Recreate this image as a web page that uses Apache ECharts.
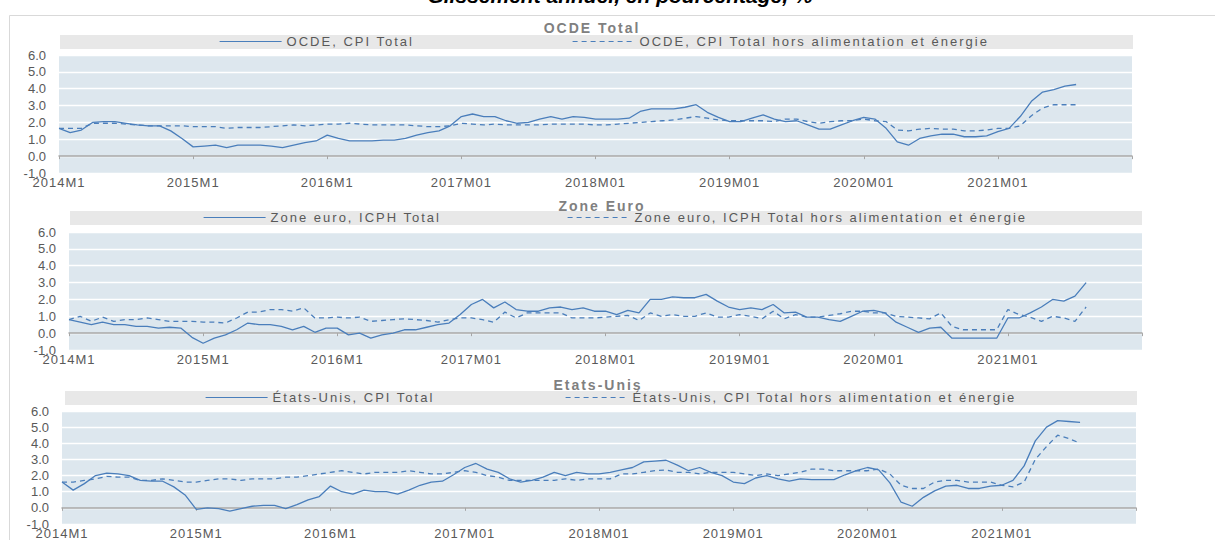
<!DOCTYPE html>
<html><head><meta charset="utf-8">
<script src="https://cdn.jsdelivr.net/npm/echarts@6/dist/echarts.min.js"></script>
<style>
html,body{margin:0;padding:0;background:#fff}
#c{width:1215px;height:540px}
#c text[style*="Helvetica"], #c text[font-family*="Helvetica"]{letter-spacing:1px}
#c text[style*="Tahoma"], #c text[font-family*="Tahoma"]{letter-spacing:2px}
</style>
</head><body><div id="c"></div>
<script>
// ---- data (monthly, 2014M1 .. 2021M8) ----
const yearLabels = ['2014M1','2015M1','2016M1','2017M01','2018M01','2019M01','2020M01','2021M01',''];
const mainTitle = 'Glissement annuel, en pourcentage, %';
const panelTitles = ['OCDE Total', 'Zone Euro', 'Etats-Unis'];
const seriesNames = [
  ['OCDE, CPI Total', 'OCDE, CPI Total hors alimentation et énergie'],
  ['Zone euro, ICPH Total', 'Zone euro, ICPH Total hors alimentation et énergie'],
  ['États-Unis, CPI Total', 'États-Unis, CPI Total hors alimentation et énergie']
];
const ocdeTotal = [1.65,1.4,1.55,2.0,2.05,2.05,1.95,1.85,1.8,1.8,1.5,1.05,
  0.55,0.6,0.65,0.5,0.65,0.65,0.65,0.6,0.5,0.65,0.8,0.9,
  1.25,1.05,0.9,0.9,0.9,0.95,0.95,1.05,1.25,1.4,1.5,1.8,
  2.35,2.5,2.35,2.35,2.1,1.95,2.0,2.2,2.35,2.2,2.35,2.3,
  2.2,2.2,2.2,2.25,2.65,2.8,2.8,2.8,2.9,3.05,2.6,2.3,
  2.05,2.05,2.25,2.45,2.2,2.05,2.1,1.85,1.6,1.6,1.85,2.1,
  2.3,2.2,1.65,0.85,0.65,1.05,1.2,1.3,1.3,1.15,1.15,1.2,
  1.45,1.65,2.35,3.25,3.8,3.95,4.15,4.25];
const ocdeCore = [1.65,1.65,1.65,1.95,1.95,1.95,1.9,1.85,1.8,1.8,1.8,1.8,
  1.75,1.75,1.75,1.65,1.7,1.7,1.7,1.75,1.8,1.85,1.8,1.85,
  1.9,1.9,1.95,1.9,1.85,1.85,1.85,1.85,1.8,1.75,1.75,1.8,
  1.95,1.9,1.85,1.9,1.85,1.85,1.85,1.85,1.9,1.9,1.9,1.9,
  1.85,1.85,1.9,1.95,2.0,2.05,2.1,2.15,2.25,2.35,2.25,2.15,
  2.1,2.1,2.1,2.1,2.05,2.2,2.2,2.05,1.95,2.05,2.1,2.1,
  2.2,2.1,2.05,1.55,1.5,1.6,1.65,1.6,1.6,1.5,1.5,1.55,
  1.65,1.65,1.8,2.4,2.85,3.05,3.05,3.05];
const euroTotal = [0.8,0.65,0.5,0.65,0.5,0.5,0.4,0.4,0.3,0.35,0.3,-0.25,
  -0.6,-0.3,-0.1,0.2,0.6,0.5,0.5,0.4,0.2,0.4,0.05,0.3,
  0.3,-0.1,0.0,-0.3,-0.1,0.0,0.2,0.2,0.35,0.5,0.6,1.1,
  1.7,2.0,1.5,1.85,1.4,1.3,1.3,1.5,1.55,1.4,1.5,1.3,
  1.3,1.1,1.35,1.2,2.0,2.0,2.15,2.1,2.1,2.3,1.9,1.55,
  1.4,1.5,1.4,1.7,1.2,1.25,0.95,0.95,0.8,0.7,1.0,1.3,
  1.35,1.2,0.65,0.35,0.05,0.3,0.35,-0.3,-0.3,-0.3,-0.3,-0.3,
  0.9,0.9,1.2,1.55,2.0,1.9,2.2,3.0];
const euroCore = [0.8,1.0,0.7,0.95,0.7,0.8,0.8,0.9,0.8,0.7,0.7,0.7,
  0.65,0.65,0.6,0.9,1.25,1.25,1.4,1.4,1.3,1.5,0.9,0.9,
  0.95,0.9,0.95,0.7,0.75,0.8,0.85,0.8,0.75,0.65,0.8,0.9,
  0.9,0.8,0.65,1.25,0.9,1.2,1.2,1.2,1.2,0.9,0.9,0.9,
  0.95,1.0,1.05,0.75,1.2,1.0,1.1,1.0,1.0,1.2,0.95,0.95,
  1.1,1.0,0.85,1.3,0.85,1.1,0.95,0.95,1.05,1.15,1.3,1.3,
  1.2,1.2,1.0,0.95,0.9,0.85,1.2,0.4,0.2,0.2,0.2,0.2,
  1.4,1.1,0.95,0.7,1.0,0.9,0.7,1.55];
const usTotal = [1.6,1.1,1.5,2.0,2.15,2.1,2.0,1.7,1.65,1.65,1.3,0.8,
  -0.1,0.0,-0.05,-0.2,-0.05,0.1,0.15,0.15,-0.05,0.2,0.5,0.7,
  1.35,1.0,0.85,1.1,1.0,1.0,0.85,1.1,1.4,1.6,1.65,2.05,
  2.5,2.75,2.4,2.2,1.8,1.6,1.7,1.9,2.2,2.0,2.2,2.1,
  2.1,2.2,2.35,2.5,2.85,2.9,2.95,2.65,2.3,2.5,2.2,2.0,
  1.6,1.5,1.85,2.0,1.8,1.65,1.8,1.75,1.75,1.75,2.05,2.3,
  2.5,2.35,1.55,0.35,0.1,0.65,1.05,1.35,1.4,1.2,1.2,1.35,
  1.4,1.7,2.6,4.15,5.0,5.4,5.35,5.3];
const usCore = [1.6,1.6,1.7,1.8,1.95,1.9,1.9,1.7,1.7,1.8,1.7,1.6,
  1.6,1.7,1.8,1.8,1.7,1.8,1.8,1.8,1.9,1.9,2.0,2.1,
  2.2,2.3,2.2,2.1,2.2,2.2,2.2,2.3,2.2,2.1,2.1,2.2,
  2.3,2.2,2.0,1.9,1.7,1.7,1.7,1.7,1.7,1.8,1.7,1.8,
  1.8,1.8,2.1,2.1,2.2,2.3,2.35,2.2,2.2,2.1,2.2,2.2,
  2.2,2.1,2.0,2.1,2.0,2.1,2.2,2.4,2.4,2.3,2.3,2.3,
  2.3,2.4,2.1,1.4,1.2,1.2,1.6,1.7,1.7,1.6,1.6,1.6,
  1.4,1.3,1.6,3.0,3.8,4.5,4.3,4.0];

const panelData = [[ocdeTotal, ocdeCore],[euroTotal, euroCore],[usTotal, usCore]];

// categories 2014M1 .. 2022M1 (axis runs one month past the data)
const categories = [];
for (let y = 2014; y <= 2022; y++) for (let m = 1; m <= 12; m++) { if (y === 2022 && m > 1) break; categories.push(y + 'M' + m); }

// ---- layout / style ----
const FONT = '"Liberation Sans", Arial, sans-serif';
const FONT_X = '"Liberation Sans", Helvetica, sans-serif';   // x labels (letter-spaced 1px)
const FONT_W = '"Liberation Sans", Tahoma, sans-serif';      // legend & panel titles (letter-spaced 2px)
const LINE = '#4a7ebb';
const grids = [
  {left: 59, width: 1073, top: 55, height: 118},
  {left: 69, width: 1073, top: 232, height: 118},
  {left: 62, width: 1074, top: 411, height: 117}
];
const legendBars = [
  {x: 60, y: 35, w: 1073, h: 14},
  {x: 70, y: 211, w: 1072, h: 14},
  {x: 65, y: 391, w: 1072, h: 14}
];
const titlePos = [{x: 592, y: 28}, {x: 602, y: 206}, {x: 598, y: 385}];
const legendPos = [[219, 572], [203, 567], [205, 565]];

const xAxis = [], yAxis = [], series = [], legend = [], graphic = [];
graphic.push({type: 'rect', shape: {x: 9.5, y: 15.5, width: 1230, height: 560}, style: {fill: 'none', stroke: '#d9d9d9', lineWidth: 1}, silent: true});
graphic.push({type: 'text', x: 620, y: -5, style: {text: mainTitle, font: 'italic bold 21px ' + FONT, fill: '#000', align: 'center', verticalAlign: 'middle'}});

grids.forEach((g, k) => {
  xAxis.push({
    gridIndex: k, type: 'category', data: categories, boundaryGap: false, position: 'bottom',
    axisLine: {show: false, onZero: false}, axisTick: {show: false},
    axisLabel: {interval: 11, color: '#595959', fontSize: 13, fontFamily: FONT_X, margin: 3,
      formatter: (v, i) => (i % 12 === 0 ? yearLabels[i / 12] : '')}
  });
  xAxis.push({
    gridIndex: k, type: 'category', data: categories, boundaryGap: false, position: 'bottom',
    axisLine: {show: true, onZero: true, lineStyle: {color: '#a6a6a6', width: 1.5}},
    axisTick: {show: true, interval: 11, length: 3, lineStyle: {color: '#a6a6a6', width: 1}},
    axisLabel: {show: false}, splitLine: {show: false}
  });
  yAxis.push({
    gridIndex: k, type: 'value', min: -1, max: 6, interval: 1,
    axisLine: {show: false}, axisTick: {show: false},
    axisLabel: {color: '#595959', fontSize: 13, fontFamily: FONT, margin: 13, formatter: v => v.toFixed(1)},
    splitLine: {show: true, lineStyle: {color: '#ffffff', width: 1.3}}
  });
  const [tot, core] = panelData[k];
  series.push({type: 'line', name: seriesNames[k][0], xAxisIndex: 2 * k, yAxisIndex: k, data: tot,
    symbol: 'none', lineStyle: {color: LINE, width: 1.3}, itemStyle: {color: LINE}, z: 3});
  series.push({type: 'line', name: seriesNames[k][1], xAxisIndex: 2 * k, yAxisIndex: k, data: core,
    symbol: 'none', lineStyle: {color: LINE, width: 1.3, type: [5, 4]}, itemStyle: {color: LINE}, z: 2});
  const b = legendBars[k];
  graphic.push({type: 'rect', shape: {x: b.x, y: b.y, width: b.w, height: b.h}, style: {fill: '#e8e8e8'}, silent: true});
  graphic.push({type: 'text', x: titlePos[k].x, y: titlePos[k].y, style: {text: panelTitles[k], font: 'bold 14px ' + FONT_W, fill: '#808080', align: 'center', verticalAlign: 'middle'}});
  [0, 1].forEach(j => {
    legend.push({
      data: [seriesNames[k][j]], left: legendPos[k][j], top: b.y, padding: 0,
      itemWidth: 62, itemHeight: 14, selectedMode: false,
      itemStyle: {opacity: 0}, lineStyle: {width: 1.2},
      textStyle: {color: '#595959', fontSize: 13, fontFamily: FONT_W}
    });
  });
});

const chart = echarts.init(document.getElementById('c'), null, {renderer: 'svg'});
chart.setOption({
  animation: false,
  backgroundColor: '#ffffff',
  grid: grids.map(g => Object.assign({show: true, backgroundColor: '#dde7ee', borderWidth: 0}, g)),
  xAxis, yAxis, series, legend, graphic
});
</script></body></html>
